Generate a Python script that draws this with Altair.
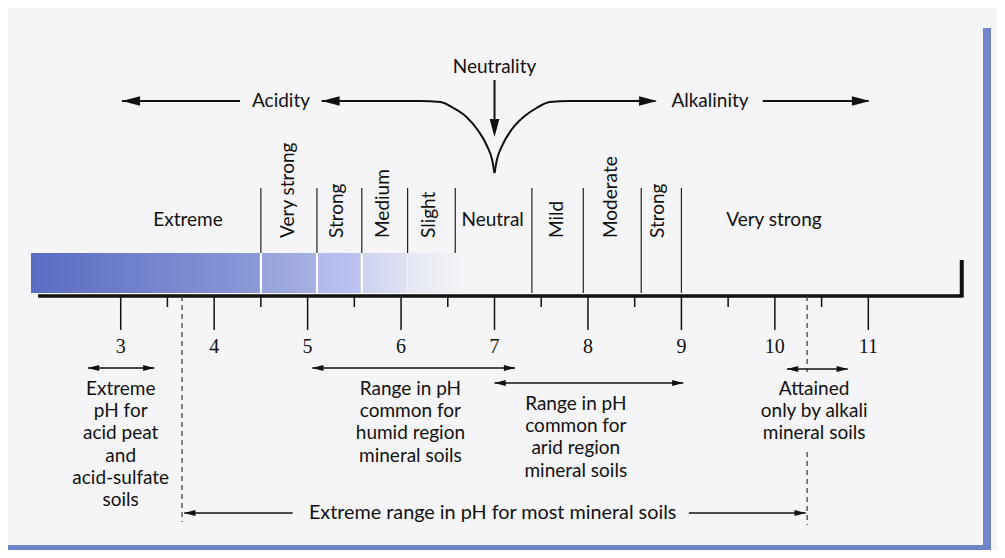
import altair as alt
import pandas as pd

# ---------------- data (pH values) ----------------
major_ticks = [3, 4, 5, 6, 7, 8, 9, 10, 11]
major_labels = ["3", "4", "5", "6", "7", "8", "9", "10", "11"]
minor_ticks = [3.5, 4.5, 5.5, 6.5, 7.5, 8.5, 9.5, 10.5]

acid_dividers = [4.5, 5.1, 5.58, 6.07, 6.58]
alk_dividers = [7.4, 7.95, 8.57, 9.0]

flat_classes = ["Extreme", "Neutral", "Very strong"]
flat_class_ph = [3.72, 6.98, 9.99]
rot_classes = ["Very strong", "Strong", "Medium", "Slight", "Mild", "Moderate", "Strong"]
rot_class_ph = [4.79, 5.31, 5.81, 6.30, 7.67, 8.25, 8.75]

# bar shading segments: start pH, end pH, left colour, right colour
bar_start = [2.04, 4.51, 5.11, 5.59, 6.07]
bar_end = [4.49, 5.09, 5.57, 6.06, 6.75]
bar_c0 = ["#5a6cc2", "#97a3dc", "#b3b9ee", "#cdd2ee", "#e4e7f3"]
bar_c1 = ["#8b99d8", "#a7b0e1", "#bdc2f0", "#dfe2f3", "#f6f6f8"]

# neutrality curves
curve_left_ph = [5.15, 6.20, 6.42, 6.56, 6.70, 6.82, 6.92, 6.975, 7.0]
curve_right_ph = [7.0, 7.025, 7.08, 7.18, 7.31, 7.45, 7.59, 7.80, 8.72]
curve_left_y = [101, 101, 102, 108, 117, 130, 146, 160, 173]
curve_right_y = [173, 160, 146, 130, 117, 108, 102, 101, 101]

# range arrows: start pH, end pH
range_names = ["peat", "humid", "arid", "alkali"]
range_lo = [2.65, 5.05, 7.0, 10.13]
range_hi = [3.36, 7.22, 9.02, 10.78]
extreme_lo, extreme_hi = 3.68, 10.33
extreme_gap = (4.84, 9.08)
dash_ph = [3.656, 10.345]

block_peat = ["Extreme", "pH for", "acid peat", "and", "acid-sulfate", "soils"]
block_humid = ["Range in pH", "common for", "humid region", "mineral soils"]
block_arid = ["Range in pH", "common for", "arid region", "mineral soils"]
block_alkali = ["Attained", "only by alkali", "mineral soils"]
block_ph = [3.0, 6.1, 7.87, 10.42]

# ---------------- layout (vertical rows, in picture units) ----------------
Y_ARROWS = 101
Y_NEUTRALITY = 67
Y_DIV_TOP = 188
Y_CLASS = 220
Y_ROT_BASE = 238
Y_BAR_TOP, Y_BAR_BOT = 253, 293
Y_AXIS = 296
Y_MAJOR, Y_MINOR = 330, 307
Y_NUM = 347
Y_RANGE = [368, 368, 383, 369]
Y_BLOCK = [389, 389, 404, 389]
LINE_H = 22.2
Y_EXTREME = 513

X_DOMAIN = [1.794, 12.377]
Y_DOMAIN = [8, 550]
xs = alt.Scale(domain=X_DOMAIN, nice=False, zero=False)
ys = alt.Scale(domain=Y_DOMAIN, reverse=True, nice=False, zero=False)

FONT = "Lato"
NUMFONT = "Liberation Serif"
FS = 19

LEFT = "M0,0L1,-0.27L1,0.27Z"
RIGHT = "M0,0L-1,-0.27L-1,0.27Z"
DOWN = "M0,0L-0.27,-1L0.27,-1Z"
BIG, SMALL = 1300, 500


def enc_xy(extra2=True):
    e = dict(x=alt.X("x:Q", scale=xs, axis=None), y=alt.Y("y:Q", scale=ys, axis=None))
    if extra2:
        e["x2"] = alt.X2("x2:Q")
        e["y2"] = alt.Y2("y2:Q")
    return e


layers = []

# frame
frame = pd.DataFrame({
    "x": [12.227, 1.794], "x2": [12.313, 12.313],
    "y": [28, 545], "y2": [550, 550], "c": ["#7186cb", "#6f84c8"],
})
layers.append(alt.Chart(frame).mark_rect().encode(**enc_xy(), color=alt.Color("c:N", scale=None)))

# shaded bar
for s, e, c0, c1 in zip(bar_start, bar_end, bar_c0, bar_c1):
    d = pd.DataFrame({"x": [s], "x2": [e], "y": [Y_BAR_TOP], "y2": [Y_BAR_BOT]})
    grad = alt.Gradient(gradient="linear", x1=0, x2=1, y1=0, y2=0,
                        stops=[alt.GradientStop(color=c0, offset=0), alt.GradientStop(color=c1, offset=1)])
    layers.append(alt.Chart(d).mark_rect(color=grad).encode(**enc_xy()))

# white lines through bar
wl = pd.DataFrame({"x": acid_dividers[:3], "x2": acid_dividers[:3],
                   "y": [Y_BAR_TOP] * 3, "y2": [Y_BAR_BOT] * 3})
layers.append(alt.Chart(wl).mark_rule(color="white", strokeWidth=2).encode(**enc_xy()))

# dividers
dv = pd.DataFrame({"x": acid_dividers + alk_dividers, "x2": acid_dividers + alk_dividers,
                   "y": [Y_DIV_TOP] * 9,
                   "y2": [Y_BAR_TOP] * 5 + [Y_BAR_BOT] * 4})
layers.append(alt.Chart(dv).mark_rule(color="#222", strokeWidth=1.2).encode(**enc_xy()))

# solid black lines
seg_rows = []
seg_rows.append((2.115, 12.0, Y_AXIS, Y_AXIS, 3.5))            # axis line
seg_rows.append((12.0, 12.0, 260, Y_AXIS + 1.5, 4))            # right end
for t in major_ticks:
    seg_rows.append((t, t, Y_AXIS, Y_MAJOR, 1.5))
for t in minor_ticks:
    seg_rows.append((t, t, Y_AXIS, Y_MINOR, 1.5))
seg_rows.append((3.014, 4.277, Y_ARROWS, Y_ARROWS, 2))        # acidity far arrow
seg_rows.append((9.87, 11.0, Y_ARROWS, Y_ARROWS, 2))          # alkalinity far arrow
seg_rows.append((7.0, 7.0, 80, 124, 2))                        # neutrality down arrow
for lo, hi, yy in zip(range_lo, range_hi, Y_RANGE):
    seg_rows.append((lo, hi, yy, yy, 1.5))
seg_rows.append((extreme_lo, extreme_gap[0], Y_EXTREME, Y_EXTREME, 1.3))
seg_rows.append((extreme_gap[1], extreme_hi, Y_EXTREME, Y_EXTREME, 1.3))
segs = pd.DataFrame(seg_rows, columns=["x", "x2", "y", "y2", "w"])
layers.append(alt.Chart(segs).mark_rule(color="#111").encode(
    **enc_xy(), strokeWidth=alt.StrokeWidth("w:Q", scale=None)))

# dashed lines
dash = pd.DataFrame({"x": [dash_ph[0], dash_ph[1], dash_ph[1]],
                     "x2": [dash_ph[0], dash_ph[1], dash_ph[1]],
                     "y": [Y_AXIS, Y_AXIS, 452], "y2": [522, 372, 525]})
layers.append(alt.Chart(dash).mark_rule(color="#333", strokeWidth=1.2, strokeDash=[5, 4]).encode(**enc_xy()))

# neutrality curves
cv = pd.DataFrame({
    "x": curve_left_ph + curve_right_ph,
    "y": curve_left_y + curve_right_y,
    "side": ["L"] * len(curve_left_ph) + ["R"] * len(curve_right_ph),
})
layers.append(alt.Chart(cv).mark_line(color="#111", strokeWidth=2, interpolate="monotone").encode(
    x=alt.X("x:Q", scale=xs, axis=None), y=alt.Y("y:Q", scale=ys, axis=None), detail="side:N"))

# arrowheads
ah = [(3.014, Y_ARROWS, LEFT, BIG), (5.15, Y_ARROWS, LEFT, BIG),
      (8.74, Y_ARROWS, RIGHT, BIG), (11.017, Y_ARROWS, RIGHT, BIG),
      (7.0, 137, DOWN, BIG)]
for lo, hi, yy in zip(range_lo, range_hi, Y_RANGE):
    ah.append((lo, yy, LEFT, SMALL))
    ah.append((hi, yy, RIGHT, SMALL))
ah.append((extreme_lo, Y_EXTREME, LEFT, SMALL))
ah.append((extreme_hi, Y_EXTREME, RIGHT, SMALL))
ahd = pd.DataFrame(ah, columns=["x", "y", "shape", "size"])
layers.append(alt.Chart(ahd).mark_point(filled=True, color="#111", opacity=1, strokeWidth=0).encode(
    x=alt.X("x:Q", scale=xs, axis=None), y=alt.Y("y:Q", scale=ys, axis=None),
    shape=alt.Shape("shape:N", scale=None), size=alt.Size("size:Q", scale=None)))

# tick numbers
nums = pd.DataFrame({"x": major_ticks, "y": [Y_NUM] * len(major_ticks), "t": major_labels})
layers.append(alt.Chart(nums).mark_text(font=NUMFONT, fontSize=20, color="#111", baseline="middle").encode(
    x=alt.X("x:Q", scale=xs, axis=None), y=alt.Y("y:Q", scale=ys, axis=None), text="t:N"))

# horizontal texts
txt = []
txt.append((7.0, Y_NEUTRALITY, "Neutrality", FS))
txt.append((4.715, Y_ARROWS, "Acidity", FS))
txt.append((9.306, Y_ARROWS, "Alkalinity", FS))
for lab, p in zip(flat_classes, flat_class_ph):
    txt.append((p, Y_CLASS, lab, FS))
for block, p, y0 in zip([block_peat, block_humid, block_arid, block_alkali], block_ph, Y_BLOCK):
    for i, line in enumerate(block):
        txt.append((p, y0 + i * LINE_H, line, FS))
txt.append((6.98, Y_EXTREME, "Extreme range in pH for most mineral soils", 19.8))
txd = pd.DataFrame(txt, columns=["x", "y", "t", "fs"])
layers.append(alt.Chart(txd).mark_text(font=FONT, color="#111", baseline="middle").encode(
    x=alt.X("x:Q", scale=xs, axis=None), y=alt.Y("y:Q", scale=ys, axis=None), text="t:N",
    size=alt.Size("fs:Q", scale=None)))

# rotated class labels
rot = pd.DataFrame({"x": rot_class_ph, "y": [Y_ROT_BASE] * len(rot_class_ph), "t": rot_classes})
layers.append(alt.Chart(rot).mark_text(font=FONT, fontSize=FS, color="#111", baseline="middle",
                                       align="left", angle=270).encode(
    x=alt.X("x:Q", scale=xs, axis=None), y=alt.Y("y:Q", scale=ys, axis=None), text="t:N"))

chart = alt.layer(*layers).properties(
    width=989, height=542,
    autosize=alt.AutoSizeParams(type="none"),
    padding=0,
    background="#f5f5f7",
).configure_view(stroke=None)

chart.save("out.html", embed_options={"renderer": "svg", "actions": False})
